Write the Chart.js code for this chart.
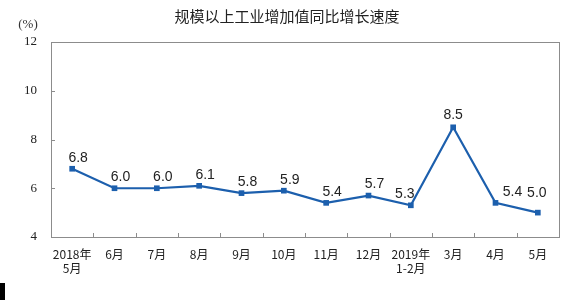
<!DOCTYPE html>
<html>
<head>
<meta charset="utf-8">
<script src="https://cdn.jsdelivr.net/npm/chart.js@4/dist/chart.umd.min.js"></script>
<style>
  html, body { margin: 0; padding: 0; background: #fff; }
  #wrap { width: 584px; height: 300px; }
</style>
</head>
<body>
<div id="wrap"><canvas id="growthChart" width="584" height="300"></canvas></div>
<script>
const months = [['2018年', '5月'], '6月', '7月', '8月', '9月', '10月', '11月', '12月', ['2019年', '1-2月'], '3月', '4月', '5月'];
const growth = [6.8, 6.0, 6.0, 6.1, 5.8, 5.9, 5.4, 5.7, 5.3, 8.5, 5.4, 5.0];
const yTicks = [4, 6, 8, 10, 12];

const lineBlue = '#1c5fad';

// frame, inner ticks, title, unit and point labels
const decor = {
  id: 'decor',
  afterDraw(chart) {
    const ctx = chart.ctx;
    const a = chart.chartArea;
    const x = chart.scales.x, y = chart.scales.y;
    ctx.save();
    ctx.strokeStyle = '#8c8c8c';
    ctx.lineWidth = 1;
    ctx.strokeRect(Math.round(a.left) + 0.5, Math.round(a.top) + 0.5, Math.round(a.right - a.left), Math.round(a.bottom - a.top));

    ctx.beginPath();
    for (let i = 1; i < months.length; i++) {
      const px = Math.round((x.getPixelForTick(i - 1) + x.getPixelForTick(i)) / 2) + 0.5;
      ctx.moveTo(px, a.bottom);
      ctx.lineTo(px, a.bottom - 4);
    }
    yTicks.slice(1, -1).forEach(v => {
      const py = Math.round(y.getPixelForValue(v)) + 0.5;
      ctx.moveTo(a.left, py);
      ctx.lineTo(a.left + 4, py);
    });
    ctx.stroke();

    ctx.fillStyle = '#222';
    ctx.font = '15px "Noto Sans CJK SC"';
    ctx.textAlign = 'center';
    ctx.textBaseline = 'middle';
    ctx.fillText('规模以上工业增加值同比增长速度', 287, 16);

    ctx.font = '13px "Liberation Serif"';
    ctx.fillStyle = '#333';
    ctx.fillText('(%)', 28, 25);

    ctx.font = '14px "Liberation Sans"';
    ctx.fillStyle = '#222';
    const meta = chart.getDatasetMeta(0);
    meta.data.forEach((pt, i) => {
      let dx = 6, dy = -11;
      if (i === 8) dx = -6;
      if (i === 9) { dx = 0; dy = -12; }
      if (i === 10) dx = 17;
      if (i === 11) { dx = -1; dy = -19; }
      if (i === 0) dy = -11;
      ctx.fillText(growth[i].toFixed(1), pt.x + dx, pt.y + dy);
    });

    ctx.fillStyle = '#000';
    ctx.fillRect(0, 283, 5, 17);
    ctx.restore();
  }
};

new Chart(document.getElementById('growthChart'), {
  type: 'line',
  data: {
    labels: months,
    datasets: [{
      data: growth,
      borderColor: lineBlue,
      backgroundColor: lineBlue,
      borderWidth: 2.2,
      pointStyle: 'rect',
      pointRadius: 4,
      pointBorderWidth: 0,
      tension: 0
    }]
  },
  options: {
    responsive: false,
    animation: false,
    layout: { padding: { top: 42, right: 25, left: 0, bottom: 0 } },
    plugins: { legend: { display: false }, tooltip: { enabled: false } },
    scales: {
      x: {
        offset: true,
        border: { display: false },
        grid: { display: false, drawTicks: false },
        ticks: {
          padding: 11,
          color: '#222',
          font: { family: '"Noto Sans CJK SC"', size: 12, lineHeight: 1.15 },
          maxRotation: 0,
          autoSkip: false
        },
        afterFit(scale) { scale.height = 63; }
      },
      y: {
        min: 4,
        max: 12,
        border: { display: false },
        grid: { display: false, drawTicks: false },
        afterBuildTicks(scale) { scale.ticks = yTicks.map(v => ({ value: v })); },
        ticks: {
          padding: 14,
          color: '#222',
          font: { family: '"Liberation Serif"', size: 13 }
        },
        afterFit(scale) { scale.width = 51; }
      }
    }
  },
  plugins: [decor]
});
</script>
</body>
</html>
